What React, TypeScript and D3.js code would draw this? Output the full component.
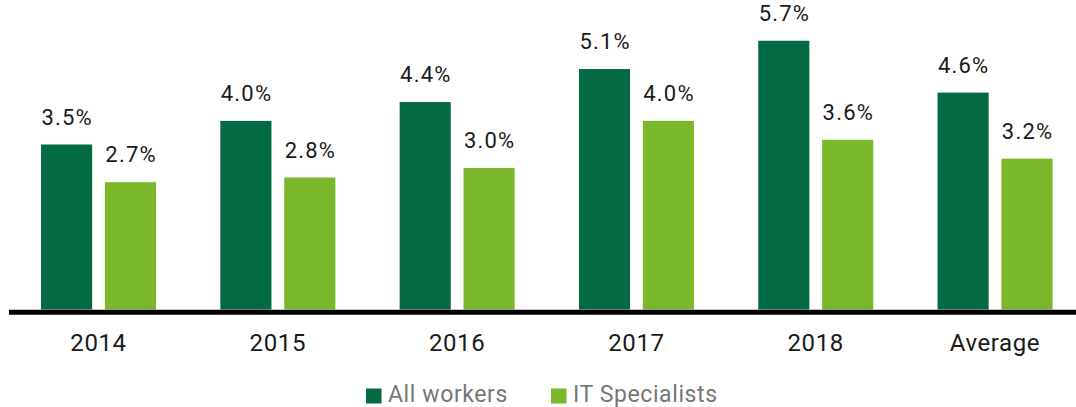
import React from "react";
import * as d3 from "d3";

// values
const categories = ["2014", "2015", "2016", "2017", "2018", "Average"];
const allWorkers = [3.5, 4.0, 4.4, 5.1, 5.7, 4.6];
const itSpecialists = [2.7, 2.8, 3.0, 4.0, 3.6, 3.2];
const seriesNames = ["All workers", "IT Specialists"];
const seriesColors = ["#046a44", "#78b82a"];

const width = 1076;
const height = 407;
const baseY = 309.5;

const App = () => {
    const x = d3
        .scaleBand()
        .domain(categories)
        .range([8.85, 1084.65])
        .padding(0);

    const inner = d3
        .scaleBand()
        .domain(seriesNames)
        .range([32.2, 147.2])
        .paddingInner(0.2);

    const y = d3.scaleLinear().domain([0, 6]).range([baseY, baseY - 6 * 47.15]);

    const series = [allWorkers, itSpecialists];

    const fmt = (v) => d3.format(".1f")(v) + "%";

    return (
        <svg
            width={width}
            height={height}
            style={{ position: "absolute", left: 0, top: 0, background: "#fff" }}
            fontFamily="Roboto, sans-serif"
        >
            {categories.map((c, i) => (
                <g key={c} transform={`translate(${x(c)},0)`}>
                    {seriesNames.map((s, j) => {
                        const v = series[j][i];
                        const bx = inner(s);
                        return (
                            <g key={s}>
                                <rect
                                    x={bx}
                                    y={y(v)}
                                    width={inner.bandwidth()}
                                    height={baseY - y(v)}
                                    fill={seriesColors[j]}
                                />
                                <text
                                    x={bx + inner.bandwidth() / 2 + 0.6}
                                    y={y(v) - 19.8}
                                    textAnchor="middle"
                                    fontSize={22}
                                    letterSpacing={1.2}
                                    fill="#1a1a1a"
                                >
                                    {fmt(v)}
                                </text>
                            </g>
                        );
                    })}
                    <text
                        x={x.bandwidth() / 2}
                        y={351}
                        textAnchor="middle"
                        fontSize={24}
                        letterSpacing={0.6}
                        fill="#1a1a1a"
                    >
                        {c}
                    </text>
                </g>
            ))}

            {/* baseline */}
            <line x1={9} x2={width} y1={312.3} y2={312.3} stroke="#000" strokeWidth={5} />

            {/* legend */}
            {seriesNames.map((s, j) => {
                const lx = [366, 551][j];
                return (
                    <g key={s}>
                        <rect x={lx} y={388.5} width={15.5} height={15} fill={seriesColors[j]} />
                        <text x={lx + 22} y={401.5} fontSize={23} letterSpacing={0.6} fill="#777">
                            {s}
                        </text>
                    </g>
                );
            })}
        </svg>
    );
};

export default App;
